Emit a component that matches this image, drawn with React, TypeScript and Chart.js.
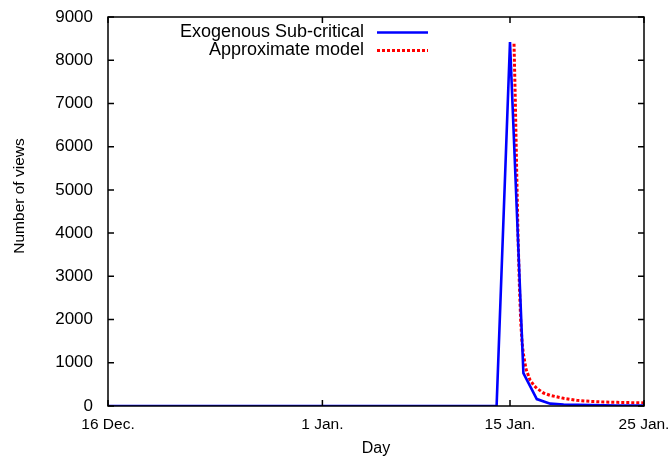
import React, { useEffect, useRef } from "react";
import { Chart, registerables } from "chart.js";

Chart.register(...registerables);

// Days counted from 16 Dec.
const tickDays = [0, 16, 30, 40];
const tickLabels = ["16 Dec.", "1 Jan.", "15 Jan.", "25 Jan."];

// Observed daily views
const observedDays = [
  0, 1, 2, 3, 4, 5, 6, 7, 8, 9, 10, 11, 12, 13, 14, 15, 16, 17, 18, 19, 20,
  21, 22, 23, 24, 25, 26, 27, 28, 29, 30, 31, 32, 33, 34, 35, 36, 37, 38, 39, 40,
];
const observedViews = [
  0, 0, 0, 0, 0, 0, 0, 0, 0, 0, 0, 0, 0, 0, 0, 0, 0, 0, 0, 0, 0,
  0, 0, 0, 0, 0, 0, 0, 0, 0, 8420, 760, 160, 55, 35, 25, 20, 15, 12, 10, 8,
];

// Approximate model curve
const modelDays = [
  30.3, 30.4, 30.5, 30.6, 30.7, 30.8, 30.9, 31.0, 31.2, 31.5, 31.8, 32.0,
  32.5, 33.0, 34.0, 35.0, 36.0, 37.0, 38.0, 39.0, 40.0,
];
const modelViews = [
  8380, 7000, 5400, 3920, 2800, 1950, 1470, 1200, 850, 600, 470, 410,
  300, 245, 178, 130, 106, 93, 84, 78, 72,
];

const seriesLabels = ["Exogenous Sub-critical", "Approximate model"];
const yAxisTitle = "Number of views";
const FONT = '"Liberation Sans", Arial, Helvetica, sans-serif';

// Border box with inward ticks on all four sides
const framePlugin = {
  id: "frameTicks",
  afterDatasetsDraw(chart: any) {
    const { ctx, chartArea, scales } = chart;
    const { left, right, top, bottom } = chartArea;
    const len = 6;
    ctx.save();
    ctx.strokeStyle = "#000";
    ctx.lineWidth = 1.5;
    ctx.beginPath();
    scales.y.ticks.forEach((t: any) => {
      const py = scales.y.getPixelForValue(t.value);
      ctx.moveTo(left, py);
      ctx.lineTo(left + len, py);
      ctx.moveTo(right, py);
      ctx.lineTo(right - len, py);
    });
    scales.x.ticks.forEach((t: any) => {
      const px = scales.x.getPixelForValue(t.value);
      ctx.moveTo(px, bottom);
      ctx.lineTo(px, bottom - len);
      ctx.moveTo(px, top);
      ctx.lineTo(px, top + len);
    });
    ctx.stroke();
    ctx.strokeRect(left, top, right - left, bottom - top);
    ctx.restore();
  },
};

// Key placed inside the plot, text right-aligned before the line sample
const keyPlugin = {
  id: "insideKey",
  afterDraw(chart: any) {
    const { ctx, chartArea } = chart;
    const textRight = chartArea.left + 256;
    const sampleStart = chartArea.left + 269;
    const sampleEnd = chartArea.left + 320;
    const rows = [chartArea.top + 15.5, chartArea.top + 33.5];
    ctx.save();
    ctx.font = `18px ${FONT}`;
    ctx.textAlign = "right";
    ctx.textBaseline = "middle";
    chart.data.datasets.forEach((ds: any, i: number) => {
      const yy = rows[i];
      ctx.fillStyle = "#000";
      ctx.fillText(ds.label, textRight, yy);
      ctx.strokeStyle = ds.borderColor;
      ctx.lineWidth = ds.borderWidth;
      ctx.setLineDash(ds.borderDash || []);
      ctx.beginPath();
      ctx.moveTo(sampleStart, yy);
      ctx.lineTo(sampleEnd, yy);
      ctx.stroke();
    });
    ctx.restore();
  },
};

// Rotated y-axis title, set slightly above the plot's middle
const yTitlePlugin = {
  id: "yTitle",
  afterDraw(chart: any) {
    const { ctx, chartArea } = chart;
    ctx.save();
    ctx.translate(20, chartArea.top + 179);
    ctx.rotate(-Math.PI / 2);
    ctx.font = `15.5px ${FONT}`;
    ctx.fillStyle = "#000";
    ctx.textAlign = "center";
    ctx.textBaseline = "middle";
    ctx.fillText(yAxisTitle, 0, 0);
    ctx.restore();
  },
};

export default function App() {
  const canvasRef = useRef<HTMLCanvasElement | null>(null);

  useEffect(() => {
    if (!canvasRef.current) return;
    const chart = new Chart(canvasRef.current, {
      type: "line",
      data: {
        datasets: [
          {
            label: seriesLabels[0],
            data: observedDays.map((d, i) => ({ x: d, y: observedViews[i] })),
            borderColor: "#0000ff",
            borderWidth: 2.6,
            pointRadius: 0,
            tension: 0,
            fill: false,
          },
          {
            label: seriesLabels[1],
            data: modelDays.map((d, i) => ({ x: d, y: modelViews[i] })),
            borderColor: "#ff0000",
            borderWidth: 3,
            borderDash: [3, 2],
            borderCapStyle: "butt",
            pointRadius: 0,
            tension: 0,
            fill: false,
          },
        ],
      },
      options: {
        responsive: false,
        animation: false,
        devicePixelRatio: 1,
        layout: { padding: { left: 0, top: 17, right: 26, bottom: 0 } },
        plugins: {
          legend: { display: false },
          tooltip: { enabled: false },
        },
        scales: {
          x: {
            type: "linear",
            min: 0,
            max: 40,
            grid: { display: false, drawTicks: false },
            border: { display: false },
            afterBuildTicks: (scale: any) => {
              scale.ticks = tickDays.map((v) => ({ value: v }));
            },
            afterFit: (scale: any) => {
              scale.height = 55;
              scale.paddingLeft = 0;
              scale.paddingRight = 0;
            },
            ticks: {
              autoSkip: false,
              maxRotation: 0,
              padding: 9,
              color: "#000",
              font: { family: FONT, size: 15.5 },
              callback: (v: any) => {
                const idx = tickDays.indexOf(Number(v));
                return idx >= 0 ? tickLabels[idx] : "";
              },
            },
            title: {
              display: true,
              text: "Day",
              color: "#000",
              font: { family: FONT, size: 16 },
              padding: { top: 0, bottom: 3 },
            },
          },
          y: {
            type: "linear",
            min: 0,
            max: 9000,
            grid: { display: false, drawTicks: false },
            border: { display: false },
            afterFit: (scale: any) => {
              scale.width = 108;
              scale.paddingTop = 0;
              scale.paddingBottom = 0;
            },
            ticks: {
              stepSize: 1000,
              padding: 15,
              color: "#000",
              font: { family: FONT, size: 17 },
              callback: (v: any) => String(v),
            },
            title: { display: false },
          },
        },
      },
      plugins: [framePlugin, keyPlugin, yTitlePlugin],
    });
    return () => chart.destroy();
  }, []);

  return (
    <div style={{ position: "absolute", left: 0, top: 0, width: 670, height: 461, background: "#fff" }}>
      <canvas ref={canvasRef} width={670} height={461} style={{ display: "block" }} />
    </div>
  );
}
